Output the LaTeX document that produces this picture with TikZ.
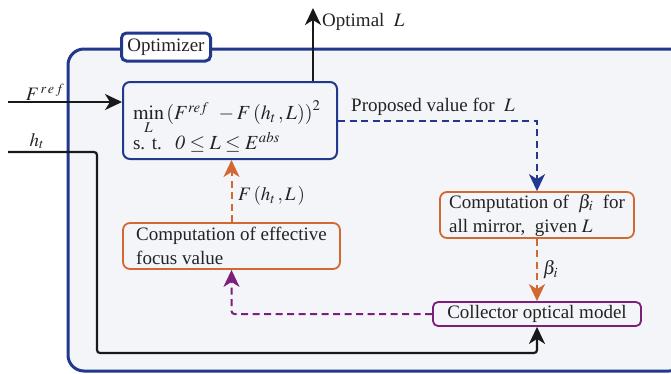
\documentclass[tikz,border=0pt]{standalone}
\usepackage{mathptmx}
\usepackage[no-math]{fontspec}
\setmainfont{Liberation Serif}
\usetikzlibrary{arrows.meta}
\definecolor{cblue}{RGB}{33,56,140}
\definecolor{corange}{RGB}{210,105,50}
\definecolor{cpurple}{RGB}{125,30,125}
\definecolor{cfill}{RGB}{243,245,248}
\definecolor{ctext}{RGB}{35,35,35}
\tikzset{
  box/.style={draw, rounded corners=7pt, fill=cfill, inner sep=0pt, align=left, text=ctext},
  arr/.style={-{Stealth[length=17pt,width=16pt,inset=5pt]}},
  dsh/.style={dash pattern=on 7pt off 4.5pt, line width=2pt},
  lbl/.style={text=ctext, inner sep=0pt}
}
\begin{document}
\begin{tikzpicture}[x=1pt,y=-1pt,font=\fontsize{19}{24}\selectfont]
\useasboundingbox (0,0) rectangle (671,373);
\clip (0,0) rectangle (671,373);
% container
\draw[cblue, line width=3pt, fill=cfill, rounded corners=16pt] (68,49) rectangle (685,371);
\node[draw=cblue, line width=3pt, fill=white, rounded corners=5pt, minimum width=89pt, minimum height=28pt, inner sep=0pt, text=ctext] (opt) at (166,47) {Optimizer};
% boxes
\node[box, draw=cblue, line width=2pt, minimum width=214pt, minimum height=77pt, text width=194pt, font=\fontsize{20}{25}\selectfont] (minbox) at (230,120.5)
  {\rule{0pt}{31pt}$\min\limits_{L}\mathbf{(}F^{ref}\ -F\,(h_t\,,L)\mathbf{)}^2$\\[-4pt] {\fontsize{19}{24}\selectfont s.\ t.}\ \ $\mathit{0}\le L\le E^{abs}$};
\node[box, draw=corange, line width=1.8pt, minimum width=217pt, minimum height=46pt] (eff) at (231.5,246)
  {Computation of effective\\focus value};
\node[box, draw=corange, line width=1.8pt, minimum width=194pt, minimum height=46pt] (beta) at (537,215)
  {Computation of \ $\beta_i$ \ for\\ all mirror, \ given $L$};
\node[box, draw=cpurple, line width=1.8pt, rounded corners=5pt, minimum width=208pt, minimum height=24pt, align=center] (coll) at (537,314)
  {Collector optical model};
% connectors
\coordinate (optL) at (313,8);
\coordinate (fin) at (8,102);
\coordinate (hin) at (8,152);
\draw[arr, line width=2.2pt, black!90] (minbox.north -| optL) -- (optL);
\node[lbl, anchor=west] (optlbl) at (322,22) {Optimal \ $L$};
\draw[arr, line width=2.2pt, black!90] (fin) -- (fin -| minbox.west);
\node[lbl] (freflbl) at (45,92) {$F^{\,r\,e\,f}$};
\draw[arr, line width=2.2pt, black!90, rounded corners=3pt] (hin) -- (97,152) -- (97,353) -- (coll.south |- 0,353) -- (coll.south);
\node[lbl] (htlbl) at (37,141) {$h_t$};
\draw[arr, dsh, cblue] (minbox.east |- 0,121) -- (beta.north |- 0,121) -- (beta.north);
\node[lbl, anchor=west] (proplbl) at (351,107) {Proposed value for \ $L$};
\draw[arr, dsh, corange] (beta.south) -- (coll.north);
\node[lbl, anchor=west] (betalbl) at (543,270) {$\beta_i$};
\draw[arr, dsh, cpurple, rounded corners=3pt] (coll.west) -- (eff.south |- coll.west) -- (eff.south);
\draw[arr, dsh, corange] (eff.north) -- (eff.north |- minbox.south);
\node[lbl, anchor=west] (flbl) at (238,196) {$F\,(h_t\,,L\,)$};
\end{tikzpicture}
\end{document}
